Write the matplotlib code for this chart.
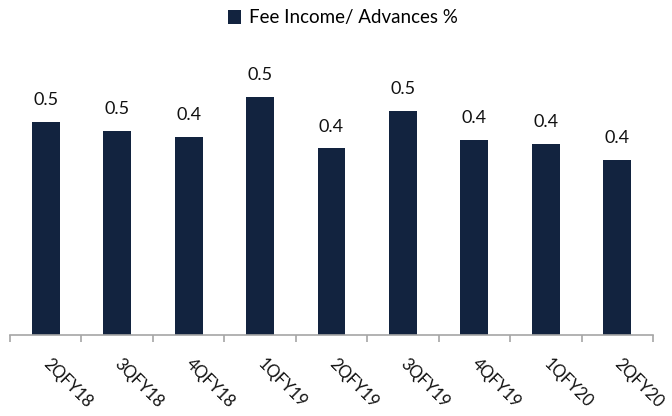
import matplotlib
matplotlib.use("Agg")
import matplotlib.pyplot as plt
import numpy as np

categories = ["2QFY18", "3QFY18", "4QFY18", "1QFY19", "2QFY19", "3QFY19", "4QFY19", "1QFY20", "2QFY20"]
values = [0.48, 0.46, 0.445, 0.535, 0.42, 0.505, 0.44, 0.43, 0.395]
series_name = "Fee Income/ Advances %"

plt.rcParams['font.family'] = ['Lato', 'DejaVu Sans']
bar_color = "#12233F"

fig = plt.figure(figsize=(6.72, 4.16), dpi=100)
ax = fig.add_axes([10/672, (416-335)/416, 643/672, (335-40)/416])
x = np.arange(len(categories))
bars = ax.bar(x, values, width=0.39, color=bar_color, label=series_name, zorder=2)
for xi, v in zip(x, values):
    ax.annotate(f"{v:.1f}", (xi, v), xytext=(0, 10), textcoords="offset points",
                ha="center", va="bottom", fontsize=13, color="#111111")

ax.set_xlim(-0.5, len(categories) - 0.5)
ax.set_ylim(0, 0.664)
ax.set_yticks([])
for s in ["left", "right", "top"]:
    ax.spines[s].set_visible(False)
ax.spines["bottom"].set_color("#A6A6A6")
ax.spines["bottom"].set_linewidth(1.2)

ax.set_xticks(x)
ax.set_xticklabels(categories, rotation=-45, ha="left", va="center", rotation_mode="anchor",
                   fontsize=12, color="#111111")
ax.tick_params(axis="x", which="major", length=0, pad=19)
ax.set_xticks(np.arange(len(categories) + 1) - 0.5, minor=True)
ax.tick_params(axis="x", which="minor", length=5, color="#A6A6A6", width=1.2, direction="out")

leg = fig.legend(handles=[bars], labels=[series_name], loc="center", bbox_to_anchor=(0.51, 1 - 18/416),
                 frameon=False, fontsize=13.5, handlelength=0.7, handleheight=0.7, handletextpad=0.4)

fig.savefig("out.png", dpi=100)
